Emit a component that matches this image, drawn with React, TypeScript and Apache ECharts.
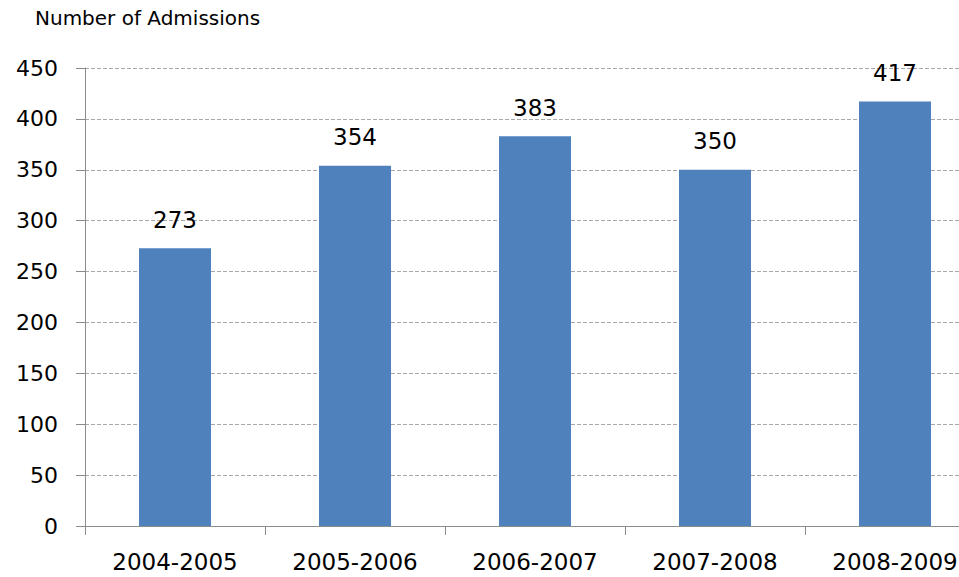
import React, { useEffect, useRef } from "react";
import * as echarts from "echarts";

const categories = ["2004-2005", "2005-2006", "2006-2007", "2007-2008", "2008-2009"];
const admissions = [273, 354, 383, 350, 417];
const yTicks = { min: 0, max: 450, interval: 50 };
const titleText = "Number of Admissions";

export default function App() {
  const ref = useRef<HTMLDivElement>(null);
  useEffect(() => {
    if (!ref.current) return;
    const chart = echarts.init(ref.current, null, { renderer: "svg" });
    chart.setOption({
      animation: false,
      backgroundColor: "#ffffff",
      title: {
        text: titleText,
        left: 30,
        top: 3,
        textStyle: { fontFamily: "DejaVu Sans", fontSize: 20, fontWeight: "normal", color: "#000" },
      },
      grid: { left: 85, right: 15, top: 68, bottom: 51, containLabel: false },
      xAxis: {
        type: "category",
        data: categories,
        axisLine: { lineStyle: { color: "#8c8c8c", width: 1 } },
        axisTick: { show: true, length: 9, alignWithLabel: false, lineStyle: { color: "#8c8c8c" } },
        axisLabel: { fontFamily: "DejaVu Sans", fontSize: 23, color: "#000", margin: 24 },
      },
      yAxis: {
        type: "value",
        min: yTicks.min,
        max: yTicks.max,
        interval: yTicks.interval,
        axisLine: { show: true, lineStyle: { color: "#8c8c8c", width: 1 } },
        axisTick: { show: true, length: 9, lineStyle: { color: "#8c8c8c" } },
        axisLabel: { fontFamily: "DejaVu Sans", fontSize: 22, color: "#000", margin: 27 },
        splitLine: { show: true, lineStyle: { color: "#a6a6a6", type: [4, 2], width: 1 } },
      },
      series: [
        {
          type: "bar",
          data: admissions,
          barWidth: 72,
          itemStyle: { color: "#4f81bd" },
          label: {
            show: true,
            position: "top",
            distance: 17,
            fontFamily: "DejaVu Sans",
            fontSize: 23,
            color: "#000",
          },
        },
      ],
    });
    return () => chart.dispose();
  }, []);
  return (
    <div style={{ position: "absolute", left: 0, top: 0, width: 959, height: 577, overflow: "hidden", background: "#fff" }}>
      <div ref={ref} style={{ position: "absolute", left: 0, top: 0, width: 1000, height: 577 }} />
    </div>
  );
}
